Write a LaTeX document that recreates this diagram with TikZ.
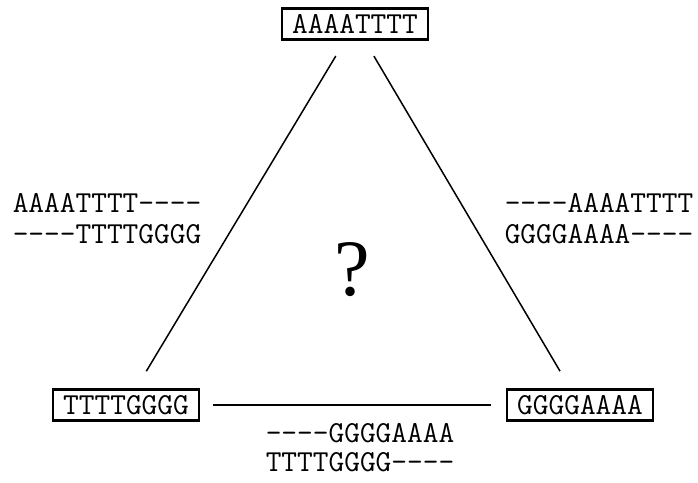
\documentclass[tikz,border=0pt]{standalone}
\usepackage{fontspec}
\setmainfont{Liberation Serif}
\usetikzlibrary{positioning}
\tikzset{
  seqbox/.style={draw, line width=2.2pt, font=\fontsize{30.5}{33}\selectfont\ttfamily,
    minimum width=146pt, minimum height=31pt, inner sep=0pt},
  seqlabel/.style={font=\fontsize{30.5}{33}\selectfont\ttfamily, inner sep=0pt,
    text height=0.62em, text depth=0pt},
  conn/.style={line width=1.5pt, shorten <=18pt, shorten >=20pt}
}
\begin{document}
\begin{tikzpicture}[x=1pt, y=-1pt]
  \useasboundingbox (0,0) rectangle (698,482);
  % vertices
  \node[seqbox] (top) at (355,24) {AAAATTTT};
  \node[seqbox] (left) at (126,405) {TTTTGGGG};
  \node[seqbox] (right) at (580,405) {GGGGAAAA};
  % edges
  \draw[conn] (top) -- (left);
  \draw[conn] (top) -- (right);
  \draw[line width=1.5pt, shorten <=13pt, shorten >=15pt] (left) -- (right);
  % overlaps
  \node[seqlabel] (l1) at (107,209) {AAAATTTT----};
  \node[seqlabel] (l2) at (107,240) {----TTTTGGGG};
  \node[seqlabel] (r1) at (599,209) {----AAAATTTT};
  \node[seqlabel] (r2) at (599,240) {GGGGAAAA----};
  \node[seqlabel] (b1) at (360,439) {----GGGGAAAA};
  \node[seqlabel] (b2) at (360,468) {TTTTGGGG----};
  \node[font=\fontsize{80}{90}\selectfont] (q) at (352,270) {?};
\end{tikzpicture}
\end{document}
